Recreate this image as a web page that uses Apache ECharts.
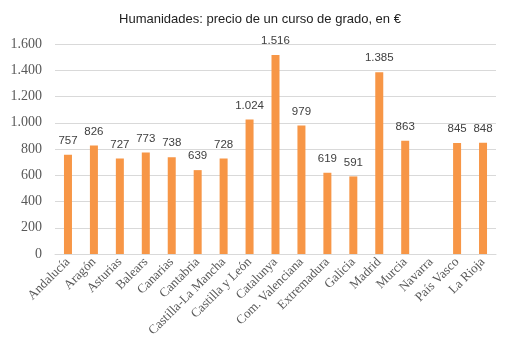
<!DOCTYPE html>
<html><head><meta charset="utf-8">
<script src="https://cdn.jsdelivr.net/npm/echarts@6/dist/echarts.min.js"></script>
<style>html,body{margin:0;padding:0;background:#fff}#c{width:520px;height:361px}</style>
</head><body><div id="c"></div>
<script>
const cats = ["Andalucía","Aragón","Asturias","Balears","Canarias","Cantabria","Castilla-La Mancha","Castilla y León","Catalunya","Com. Valenciana","Extremadura","Galicia","Madrid","Murcia","Navarra","País Vasco","La Rioja"];
const values = [757,826,727,773,738,639,728,1024,1516,979,619,591,1385,863,null,845,848];
const yTicks = [0,200,400,600,800,1000,1200,1400,1600];
function fmt(v){ return String(v).replace(/\B(?=(\d{3})+(?!\d))/g,'.'); }
const chart = echarts.init(document.getElementById('c'));
chart.setOption({
  animation:false,
  title:{text:'Humanidades: precio de un curso de grado, en €',left:'center',top:8,
    textStyle:{fontFamily:'Liberation Sans',fontSize:13,fontWeight:'normal',color:'#222'}},
  grid:{left:55,right:24,top:44,bottom:107},
  xAxis:{type:'category',data:cats,
    axisLine:{lineStyle:{color:'#D9D9D9'}},axisTick:{show:false},
    axisLabel:{interval:0,rotate:45,fontFamily:'Liberation Serif',fontSize:13,color:'#595959',margin:6}},
  yAxis:{type:'value',min:yTicks[0],max:yTicks[yTicks.length-1],interval:200,
    axisLine:{show:false},axisTick:{show:false},
    splitLine:{lineStyle:{color:'#D9D9D9'}},
    axisLabel:{fontFamily:'Liberation Serif',fontSize:14,color:'#595959',margin:13,formatter:fmt}},
  series:[{type:'bar',data:values,barWidth:8,itemStyle:{color:'#F79646'},
    label:{show:true,position:'top',distance:8,fontFamily:'Liberation Sans',fontSize:11.5,color:'#404040',
      formatter:p=>fmt(p.value)}}]
});
</script></body></html>
